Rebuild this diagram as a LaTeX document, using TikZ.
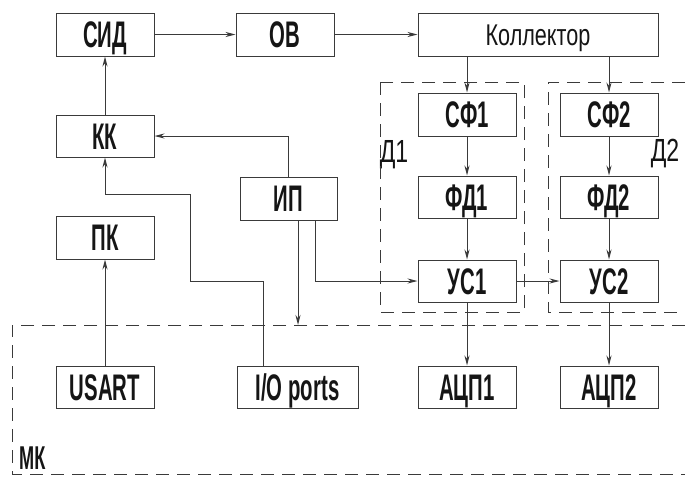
\documentclass[tikz,border=0pt]{standalone}
\usepackage{fontspec}
\setmainfont{Liberation Sans}
\newfontfamily\bfnt[FakeStretch=0.55]{Liberation Sans}
\newfontfamily\tfnt[FakeStretch=0.72]{Liberation Sans}
\usetikzlibrary{arrows.meta}
\definecolor{ln}{HTML}{3A3A3A}
\definecolor{tx}{HTML}{151515}
\tikzset{
  blk/.style={draw=ln, line width=1pt, minimum width=98pt, minimum height=43pt,
    inner sep=0pt, font=\fontsize{37}{37}\bfnt\bfseries, text=tx,
    text height=26pt, text depth=0pt},
  arr/.style={draw=ln, line width=1pt, -{Stealth[length=10pt,width=5pt]}},
  dsh/.style={draw=ln, line width=1pt, dash pattern=on 13pt off 8pt},
  thinlbl/.style={inner sep=0pt, font=\fontsize{32}{32}\tfnt, text=tx}
}
\begin{document}
\begin{tikzpicture}[x=1pt,y=-1pt]
\useasboundingbox (0,0) rectangle (685,477);
\fill[white] (0,0) rectangle (685,477);
% blocks
\node[blk] (sid) at (105,34.5) {СИД};
\node[blk] (ov) at (285,34.5) {ОВ};
\node[blk, minimum width=240pt, font=\fontsize{30}{30}\tfnt, text height=22pt] (kol) at (538,34.5) {Коллектор};
\node[blk, minimum height=42pt] (kk) at (105,136) {КК};
\node[blk, minimum width=97pt] (ip) at (288.5,198.5) {ИП};
\node[blk] (pk) at (105,237.5) {ПК};
\node[blk] (sf1) at (467,114.5) {СФ1};
\node[blk, minimum height=42pt] (fd1) at (467,197) {ФД1};
\node[blk] (sf2) at (609,114.5) {СФ2};
\node[blk, minimum height=42pt] (fd2) at (609,197) {ФД2};
\node[blk, minimum height=42pt] (us1) at (467,281) {УС1};
\node[blk, minimum height=42pt] (us2) at (609,281) {УС2};
\node[blk, minimum height=42pt] (usart) at (105,387) {USART};
\node[blk, minimum height=42pt, minimum width=121pt] (io) at (297.5,387) {I/O ports};
\node[blk, minimum height=42pt] (adc1) at (467,387) {АЦП1};
\node[blk, minimum height=42pt] (adc2) at (609,387) {АЦП2};
% labels
\node[thinlbl] (d1) at (394,155) {Д1};
\node[thinlbl] (d2) at (665,154) {Д2};
\node[inner sep=0pt, font=\fontsize{33}{33}\bfnt\bfseries, text=tx, anchor=base west] (mk) at (19,469) {МК};
% dashed frames
\draw[dsh] (380,82) rectangle (524,312);
\draw[dsh] (685,82) -- (548,82) -- (548,312) -- (685,312);
\draw[dsh] (685,325) -- (12,325) -- (12,474) -- (685,474);
% coordinates
\coordinate (mktop) at (298,325);
\coordinate (ipb) at (315,0);
\coordinate (p1) at (263,281);
\coordinate (p2) at (190,281);
\coordinate (p3) at (190,194);
% connectors
\draw[arr] (sid) -- (ov);
\draw[arr] (ov) -- (kol);
\draw[arr] (kol.south -| sf1) -- (sf1);
\draw[arr] (kol.south -| sf2) -- (sf2);
\draw[arr] (sf1) -- (fd1);
\draw[arr] (fd1) -- (us1);
\draw[arr] (sf2) -- (fd2);
\draw[arr] (fd2) -- (us2);
\draw[arr] (us1) -- (us2);
\draw[arr] (us1) -- (adc1);
\draw[arr] (us2) -- (adc2);
\draw[arr] (kk) -- (sid);
\draw[arr] (usart) -- (pk);
\draw[arr] (ip.north) |- (kk.east);
\draw[arr] (io.north -| p1) -- (p1) -- (p2) -- (p3) -| (kk.south);
\draw[arr] (ip.south -| mktop) -- (mktop);
\draw[arr] (ip.south -| ipb) |- (us1.west);
\end{tikzpicture}
\end{document}
